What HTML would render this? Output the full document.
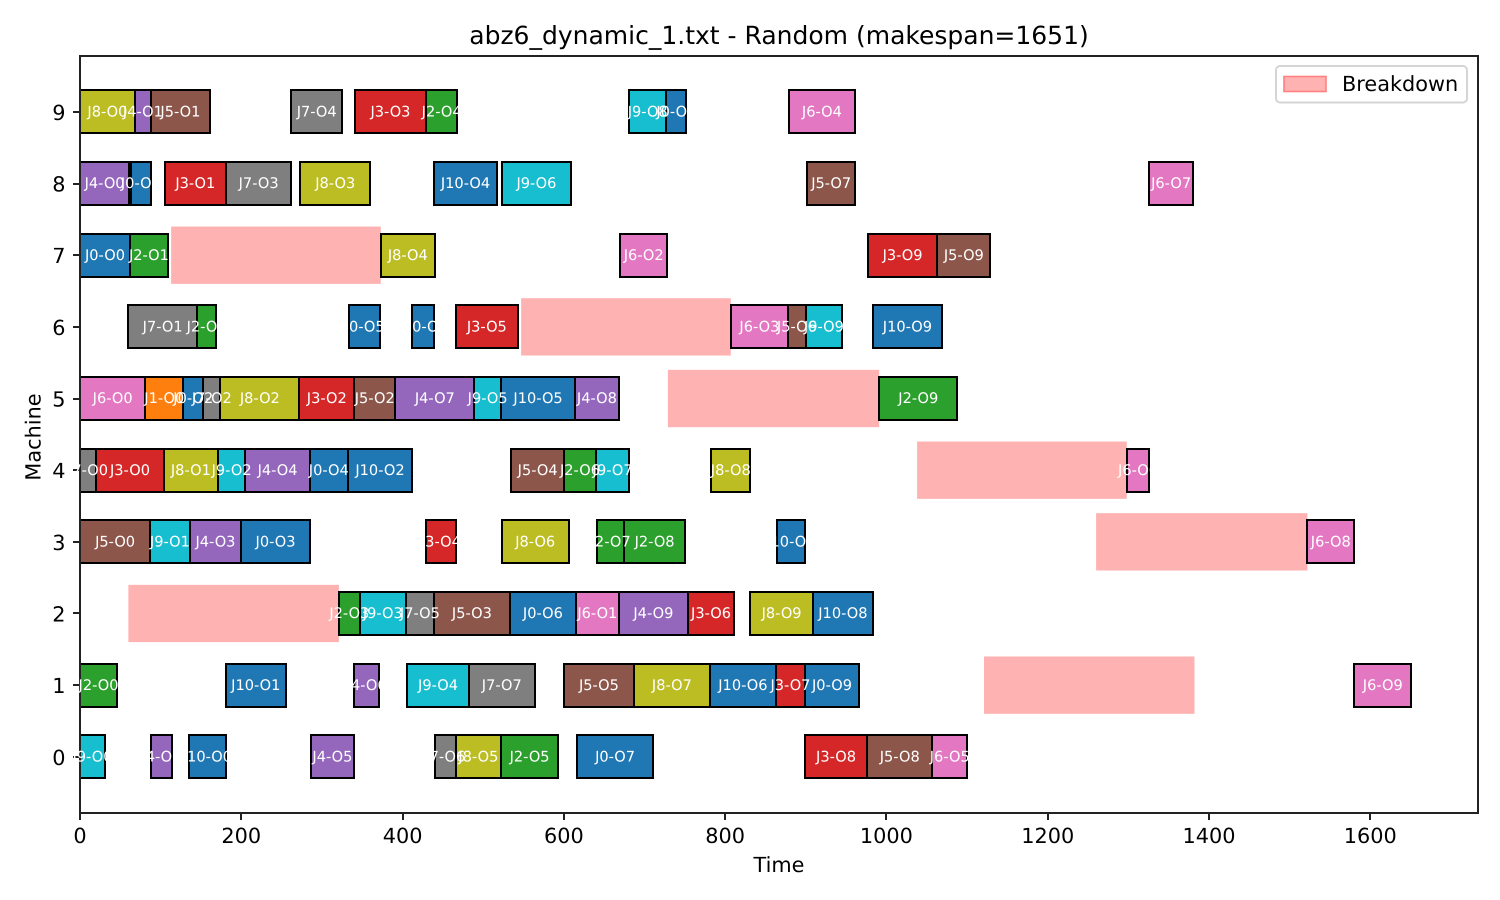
<!DOCTYPE html>
<html lang="en">
<head>
<meta charset="utf-8">
<title>abz6_dynamic_1.txt - Random (makespan=1651)</title>
<style>
  html, body { margin: 0; padding: 0; background: #ffffff; }
  #chart { display: block; width: 1500px; height: 900px; font-family: "DejaVu Sans", "Liberation Sans", sans-serif; text-rendering: geometricPrecision; }
  .crisp { shape-rendering: crispEdges; }
</style>
</head>
<body>
<svg id="chart" xmlns="http://www.w3.org/2000/svg" width="1500" height="900" viewBox="0 0 1500 900">
  <rect x="0" y="0" width="1500" height="900" fill="#ffffff"></rect>
  <g id="breakdown-layer"></g>
  <g id="bar-layer"></g>
  <g id="tick-layer"></g>
  <g class="crisp" stroke="#222222" stroke-width="2" fill="none">
    <line x1="80" y1="55" x2="80" y2="814"></line>
    <line x1="1478" y1="55" x2="1478" y2="814"></line>
    <line x1="79" y1="56" x2="1479" y2="56"></line>
    <line x1="79" y1="813" x2="1479" y2="813"></line>
  </g>
  <g id="label-layer"></g>
  <text x="779" y="44" text-anchor="middle" font-size="25" fill="#000000">abz6_dynamic_1.txt - Random (makespan=1651)</text>
  <text x="779" y="872" text-anchor="middle" font-size="20.83" fill="#000000">Time</text>
  <text transform="translate(40.5 437) rotate(-90)" text-anchor="middle" font-size="20.83" fill="#000000">Machine</text>
  <g>
    <rect x="1276" y="66" width="191" height="36.5" rx="4" ry="4" fill="#ffffff" stroke="#d5d5d5" stroke-width="2"></rect>
    <rect x="1284" y="76.5" width="42" height="15" fill="#ffb2b2" stroke="#ff8080" stroke-width="1.6"></rect>
    <text x="1342" y="91" font-size="20.83" fill="#000000">Breakdown</text>
  </g>
</svg>
<script>
const barJobs = [
  8,4,5,7,3,2,9,0,6,
  4,0,3,7,8,10,9,5,6,
  0,2,8,6,3,5,
  7,2,0,10,3,6,5,9,10,
  6,1,0,7,8,3,5,4,9,10,4,2,
  7,3,8,9,4,0,10,5,2,9,8,6,
  5,9,4,0,3,8,2,2,10,6,
  2,9,7,5,0,6,4,3,8,10,
  2,10,4,9,7,5,8,10,3,0,6,
  9,4,10,4,7,8,2,0,3,5,6
];
const barOps = [
  0,1,1,4,3,4,8,8,4,
  0,1,1,3,3,4,6,7,7,
  0,1,4,2,9,9,
  1,2,5,3,5,3,6,9,9,
  0,0,2,2,2,2,2,7,5,5,8,9,
  0,0,1,2,4,4,2,4,6,7,8,6,
  0,1,3,3,4,6,7,8,7,8,
  3,3,5,3,6,1,9,6,9,8,
  0,1,6,4,7,5,7,6,7,9,9,
  0,2,0,5,6,5,5,7,8,8,5
];
const barMachines = [
  9,9,9,9,9,9,9,9,9,
  8,8,8,8,8,8,8,8,8,
  7,7,7,7,7,7,
  6,6,6,6,6,6,6,6,6,
  5,5,5,5,5,5,5,5,5,5,5,5,
  4,4,4,4,4,4,4,4,4,4,4,4,
  3,3,3,3,3,3,3,3,3,3,
  2,2,2,2,2,2,2,2,2,2,
  1,1,1,1,1,1,1,1,1,1,1,
  0,0,0,0,0,0,0,0,0,0,0
];
const barStarts = [
  0,68,88,262,341,429,681,727,879,
  0,63,105,181,273,439,523,902,1326,
  0,62,373,670,977,1063,
  60,145,334,412,466,807,878,900,983,
  0,81,128,153,174,272,340,391,489,522,614,991,
  0,20,104,171,205,285,332,535,600,640,783,1298,
  0,87,136,200,429,523,641,675,864,1522,
  321,347,404,439,533,615,668,754,831,909,
  0,181,340,406,482,600,687,781,863,899,1580,
  0,88,135,286,440,466,522,616,899,976,1057
];
const barEnds = [
  68,88,161,325,429,468,727,752,961,
  61,88,181,262,360,517,609,961,1380,
  62,109,440,728,1063,1129,
  145,169,372,439,543,878,900,945,1069,
  81,128,153,174,272,340,391,489,522,614,668,1088,
  20,104,171,205,285,332,412,600,640,681,831,1326,
  87,136,200,285,466,606,675,750,899,1580,
  347,404,439,533,615,668,754,811,909,983,
  46,255,371,482,564,687,781,863,899,966,1651,
  31,114,181,340,466,522,593,711,976,1057,1100
];
const breakdownMachines = [7, 6, 5, 4, 3, 2, 1];
const breakdownStarts = [113, 547, 729, 1038, 1260, 60, 1121];
const breakdownEnds = [373, 807, 991, 1298, 1522, 321, 1382];
const xTickValues = [0, 200, 400, 600, 800, 1000, 1200, 1400, 1600];
const yTickValues = [0, 1, 2, 3, 4, 5, 6, 7, 8, 9];
const jobColors = ['#1f77b4','#ff7f0e','#2ca02c','#d62728','#9467bd','#8c564b','#e377c2','#7f7f7f','#bcbd22','#17becf','#1f77b4'];

const SVGNS = 'http://www.w3.org/2000/svg';
const plotLeft = 80, plotRight = 1478, plotTop = 56, plotBottom = 812.7;
const xMin = 0, xMax = 1733.55, yMin = -0.78, yMax = 9.78;

function xScale(t) {
  return plotLeft + (t - xMin) / (xMax - xMin) * (plotRight - plotLeft);
}
function yScale(m) {
  return plotBottom - (m - yMin) / (yMax - yMin) * (plotBottom - plotTop);
}
function make(tag, parent, attrs) {
  const el = document.createElementNS(SVGNS, tag);
  for (const k in attrs) el.setAttribute(k, attrs[k]);
  parent.appendChild(el);
  return el;
}

const breakdownLayer = document.getElementById('breakdown-layer');
const barLayer = document.getElementById('bar-layer');
const tickLayer = document.getElementById('tick-layer');
const labelLayer = document.getElementById('label-layer');

breakdownMachines.forEach(function (m, i) {
  const x0 = xScale(breakdownStarts[i]);
  const x1 = xScale(breakdownEnds[i]);
  const el = make('rect', breakdownLayer, {
    x: x0, y: yScale(m + 0.4), width: x1 - x0, height: yScale(m - 0.4) - yScale(m + 0.4),
    fill: '#ffb2b2'
  });
  
  
});

barJobs.forEach(function (job, i) {
  const x0 = Math.round(xScale(barStarts[i]));
  const x1 = Math.round(xScale(barEnds[i]));
  const y0 = Math.round(yScale(barMachines[i] + 0.3));
  const y1 = Math.round(yScale(barMachines[i] - 0.3));
  const label = 'J' + job + '-O' + barOps[i];
  const el = make('rect', barLayer, {
    x: x0, y: y0, width: x1 - x0, height: y1 - y0,
    fill: jobColors[job], stroke: '#000000', 'stroke-width': 2, 'class': 'crisp'
  });
  
  
  const txt = make('text', labelLayer, {
    x: xScale((barStarts[i] + barEnds[i]) / 2), y: yScale(barMachines[i]) + 4.6,
    'text-anchor': 'middle', 'font-size': 14.58, fill: '#ffffff'
  });
  txt.textContent = label;
  
  
});

xTickValues.forEach(function (v) {
  const x = Math.round(xScale(v));
  const tick = make('line', tickLayer, {
    x1: x, x2: x, y1: 813, y2: 820, stroke: '#222222', 'stroke-width': 2, 'class': 'crisp'
  });
  
  
  const txt = make('text', tickLayer, {
    x: xScale(v), y: 843, 'text-anchor': 'middle', 'font-size': 20.83, fill: '#000000'
  });
  txt.textContent = String(v);
  
  
});

yTickValues.forEach(function (v) {
  const y = Math.round(yScale(v));
  const tick = make('line', tickLayer, {
    x1: 73, x2: 80, y1: y, y2: y, stroke: '#222222', 'stroke-width': 2, 'class': 'crisp'
  });
  
  
  const txt = make('text', tickLayer, {
    x: 65.5, y: yScale(v) + 8, 'text-anchor': 'end', 'font-size': 20.83, fill: '#000000'
  });
  txt.textContent = String(v);
  
  
});
</script>
</body>
</html>
